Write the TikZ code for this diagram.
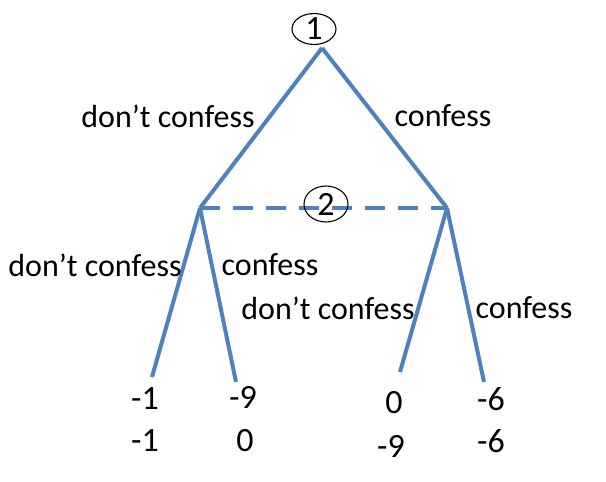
\documentclass[tikz,border=0pt]{standalone}
\usepackage{fontspec}
\setmainfont{Carlito}
\tikzset{
	branch/.style={draw=treeblue,line width=4pt},
	player/.style={draw,ellipse,line width=1.1pt,inner sep=0pt,minimum width=44pt,minimum height=29pt},
	lbl/.style={font=\fontsize{32}{36}\selectfont},
	pay/.style={font=\fontsize{34}{38}\selectfont}
}
\usetikzlibrary{shapes.geometric}
\definecolor{treeblue}{HTML}{4F81BD}
\begin{document}
\begin{tikzpicture}[x=1pt,y=-1pt]
	\useasboundingbox (0,0) rectangle (606,482);
	\coordinate (root) at (322,48);
	\coordinate (n2l) at (200,208);
	\coordinate (n2r) at (447,208);
	\coordinate (ll) at (152,377);
	\coordinate (lr) at (236,382);
	\coordinate (rl) at (400,372);
	\coordinate (rr) at (484,382);
	\draw[branch]  (root) -- (n2l);
	\draw[branch]  (root) -- (n2r);
	\draw[branch,dash pattern=on 20pt off 13pt]  (n2l) -- (n2r);
	\draw[branch]  (n2l) -- (ll);
	\draw[branch]  (n2l) -- (lr);
	\draw[branch]  (n2r) -- (rl);
	\draw[branch]  (n2r) -- (rr);
	\node[player,pay] (p1) at (314,29) {1};
	\node[player,pay,minimum height=36pt] (p2) at (326,204) {2};
	% move labels
	\node[lbl] (a1) at (168,116) {don’t confess};
	\node[lbl] (a2) at (443,116) {confess};
	\node[lbl] (b1) at (95,265) {don’t confess};
	\node[lbl] (b2) at (270,265) {confess};
	\node[lbl] (b3) at (328,308) {don’t confess};
	\node[lbl] (b4) at (524,308) {confess};
	% payoffs
	\node[pay] (u1) at (145,399) {-1};
	\node[pay] (v1) at (145,441) {-1};
	\node[pay] (u2) at (243,397) {-9};
	\node[pay] (v2) at (245,441) {0};
	\node[pay] (u3) at (394,403) {0};
	\node[pay] (v3) at (391,446) {-9};
	\node[pay] (u4) at (491,399) {-6};
	\node[pay] (v4) at (491,441) {-6};
\end{tikzpicture}
\end{document}
